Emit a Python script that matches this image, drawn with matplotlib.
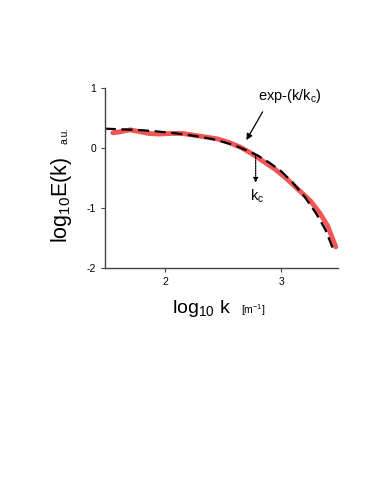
import numpy as np
import matplotlib
matplotlib.use('Agg')
from matplotlib import pyplot as plt

plt.rcParams['font.family'] = ['Liberation Sans', 'DejaVu Sans']

# measured spectrum (red)
logk_data = [1.55, 1.62, 1.70, 1.78, 1.86, 1.95, 2.05, 2.15, 2.25, 2.35, 2.45, 2.55,
             2.65, 2.75, 2.85, 2.95, 3.05, 3.15, 3.25, 3.33, 3.40, 3.47]
logE_data = [0.25, 0.27, 0.30, 0.27, 0.24, 0.23, 0.24, 0.24, 0.21, 0.18, 0.15, 0.09,
             0.01, -0.10, -0.23, -0.36, -0.52, -0.70, -0.88, -1.08, -1.30, -1.65]

# exponential fit exp-(k/kc) (dashed)
logk_fit = [1.48, 1.60, 1.75, 1.90, 2.00, 2.10, 2.25, 2.40, 2.50, 2.60, 2.70, 2.80,
            2.90, 3.00, 3.10, 3.20, 3.30, 3.38, 3.45]
logE_fit = [0.32, 0.31, 0.30, 0.28, 0.26, 0.24, 0.20, 0.15, 0.10, 0.04, -0.04, -0.13,
            -0.25, -0.39, -0.58, -0.81, -1.09, -1.36, -1.70]

logk_c = 2.78

fig = plt.figure(figsize=(3.74, 4.88), dpi=100)
ax = fig.add_axes([0.281, 0.451, 0.623, 0.369])

ax.plot(logk_data, logE_data, color='#f25555', lw=3.5, solid_capstyle='round')
ax.plot(logk_fit, logE_fit, color='black', lw=1.6, dashes=(5, 2.5))

ax.set_xlim(1.483, 3.49)
ax.set_ylim(-2, 1)
ax.set_xticks([2, 3])
ax.set_yticks([-2, -1, 0, 1])
ax.set_yticklabels(['-2', '-1', '0', '1'])
for s in ['top', 'right']:
    ax.spines[s].set_visible(False)
for s in ['left', 'bottom']:
    ax.spines[s].set_color('#444444')
    ax.spines[s].set_linewidth(1.0)
ax.tick_params(labelsize=7.5, length=3, width=0.8, colors='#444444', labelcolor='black')

ax.annotate('', xy=(2.70, 0.13), xytext=(2.84, 0.60),
            arrowprops=dict(arrowstyle='-|>', color='black', lw=0.9, shrinkA=0, shrinkB=0,
                            mutation_scale=9))
ax.text(2.80, 0.86, 'exp-(k/k$_\\mathregular{c}$)', fontsize=10.5, ha='left', va='center')
ax.annotate('', xy=(logk_c, -0.58), xytext=(logk_c, -0.12),
            arrowprops=dict(arrowstyle='-|>', color='black', lw=0.9, ls=(0, (1, 1)),
                            shrinkA=0, shrinkB=0, mutation_scale=7))
ax.text(logk_c + 0.01, -0.80, 'k$_\\mathregular{c}$', fontsize=10.5, ha='center', va='center')

fig.text(0.164, 0.59, 'log$_\\mathregular{10}$E(k)', fontsize=15.5, rotation=90,
         ha='center', va='center')
fig.text(0.172, 0.723, 'a.u.', fontsize=7.5, rotation=90, ha='center', va='center')
fig.text(0.54, 0.368, 'log$_\\mathregular{10}$ k', fontsize=14, ha='center', va='center')
fig.text(0.677, 0.364, '[m$^\\mathregular{-1}$]', fontsize=7.5, ha='center', va='center')

fig.savefig('out.png', dpi=100)
